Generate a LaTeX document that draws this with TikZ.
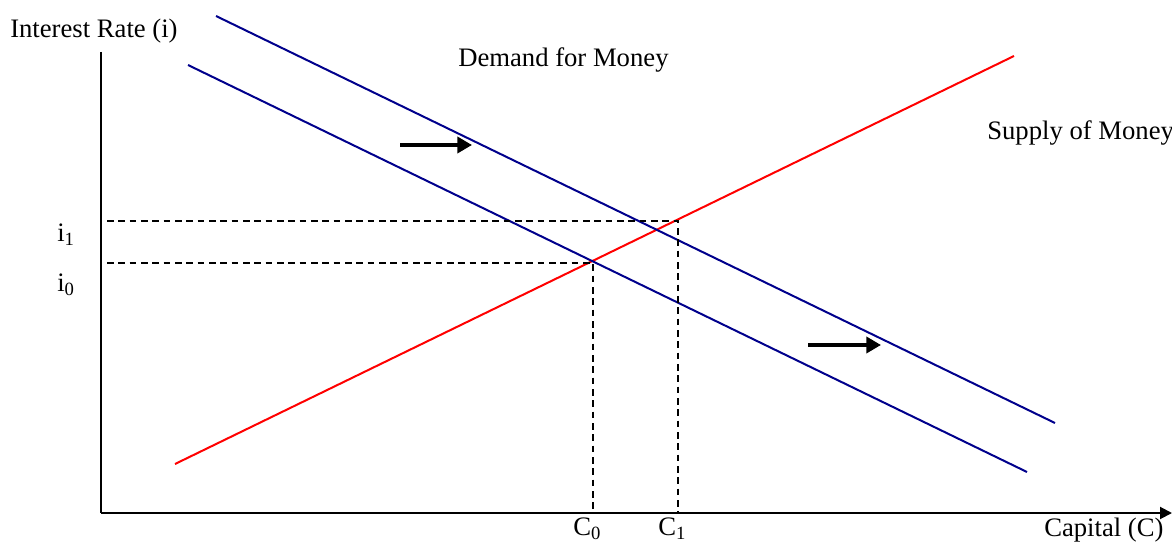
\documentclass[tikz,border=0pt]{standalone}
\usepackage{fontspec}
\setmainfont{Liberation Serif}
\usepackage{tikz}
\usetikzlibrary{arrows.meta, positioning}

\begin{document}
\begin{tikzpicture}[
    x=0.75pt, y=-0.75pt,
    axis/.style={line width=1.5pt, draw=black},
    demand/.style={line width=1.5pt, draw=blue!55!black},
    supply/.style={line width=1.5pt, draw=red},
    guide/.style={line width=1.2pt, draw=black, dash pattern=on 5pt off 3.5pt},
    shiftarrow/.style={line width=3.2pt, draw=black, -{Triangle[length=11pt, width=12pt]}},
    label/.style={inner sep=0pt, font=\fontsize{20}{24}\selectfont}
]
\useasboundingbox (0,0) rectangle (1172,542);

% Axes
\coordinate (origin) at (101,513);
\coordinate (ytop) at (101,52);
\coordinate (xend) at (1172,513);
\draw[axis] (ytop) -- (origin);
\draw[axis, -{Triangle[length=9pt, width=9pt]}] (origin) -- (xend);

% Curves
\coordinate (s0) at (175,464);
\coordinate (s1) at (1014,56);
\coordinate (dA0) at (188,65);
\coordinate (dA1) at (1027,472);
\coordinate (dB0) at (216,16);
\coordinate (dB1) at (1055,423);
\draw[supply] (s0) -- (s1);
\draw[demand] (dA0) -- (dA1);
\draw[demand] (dB0) -- (dB1);

% Equilibrium guides
\coordinate (e0) at (593,263);
\coordinate (e1) at (678,221);
\coordinate (y0) at (107,263);
\coordinate (y1) at (107,221);
\coordinate (x0) at (593,513);
\coordinate (x1) at (678,513);
\draw[guide] (y0) -- (e0) -- (x0);
\draw[guide] (y1) -- (e1) -- (x1);

% Shift arrows
\coordinate (a0) at (400,145);
\coordinate (a1) at (472,145);
\coordinate (b0) at (808,345);
\coordinate (b1) at (881,345);
\draw[shiftarrow] (a0) -- (a1);
\draw[shiftarrow] (b0) -- (b1);

% Labels
\node[label, anchor=base west] (ylab) at (10,38) {Interest Rate (i)};
\node[label, anchor=base west] (dlab) at (458,67) {Demand for Money};
\node[label, anchor=base west] (slab) at (987,139) {Supply of Money};
\node[label, anchor=base west] (ione) at (57,241) {i\textsubscript{1}};
\node[label, anchor=base west] (izero) at (57,291) {i\textsubscript{0}};
\node[label, anchor=base west] (czero) at (573,535) {C\textsubscript{0}};
\node[label, anchor=base west] (cone) at (658,535) {C\textsubscript{1}};
\node[label, anchor=base west] (xlab) at (1044,536) {Capital (C)};

\end{tikzpicture}
\end{document}
